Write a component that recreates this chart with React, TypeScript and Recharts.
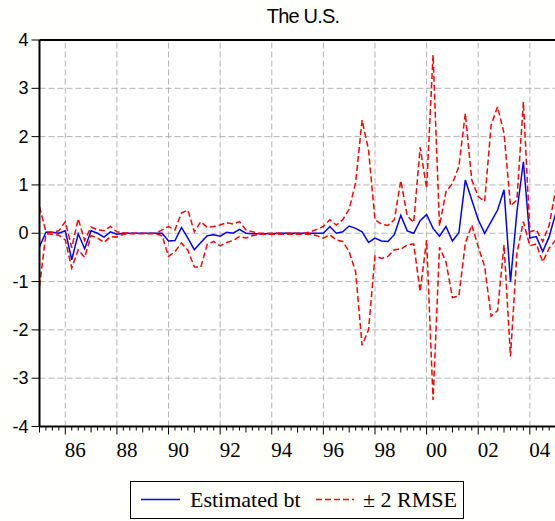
import React from 'react';
import { LineChart, Line, XAxis, YAxis, ReferenceLine } from 'recharts';

// Quarterly observations, index 0 = 1985Q1
const estimatedBt = [
  -0.28, 0.02, 0.02, 0.00, 0.05, -0.55, -0.01, -0.32, 0.05, 0.00,
  -0.08, 0.03, -0.02, 0.00, 0.00, 0.00, 0.00, 0.00, 0.00, 0.00,
  -0.16, -0.15, 0.12, -0.10, -0.34, -0.19, -0.05, -0.03, -0.06, 0.02,
  0.00, 0.08, 0.00, -0.01, -0.01, -0.01, -0.01, 0.00, 0.00, 0.00,
  0.00, 0.00, 0.00, 0.00, 0.00, 0.14, 0.00, 0.03, 0.15, 0.10,
  0.03, -0.19, -0.10, -0.16, -0.17, -0.03, 0.37, 0.05, 0.00, 0.26,
  0.39, 0.10, -0.06, 0.14, -0.16, 0.01, 1.10, 0.69, 0.28, 0.00,
  0.24, 0.48, 0.90, -1.01, 0.45, 1.48, -0.10, -0.07, -0.38, -0.07,
  0.41,
];

const upperBand = [
  0.55, 0.03, 0.02, 0.05, 0.24, -0.30, 0.30, -0.15, 0.13, 0.07,
  0.05, 0.14, 0.03, 0.01, 0.00, 0.00, 0.00, 0.00, 0.00, 0.07,
  0.14, 0.07, 0.42, 0.48, 0.03, 0.24, 0.12, 0.14, 0.17, 0.22,
  0.19, 0.24, 0.07, 0.03, 0.00, 0.00, 0.00, 0.00, 0.00, 0.00,
  0.00, 0.00, 0.03, 0.08, 0.14, 0.28, 0.17, 0.28, 0.50, 1.05,
  2.34, 1.72, 0.28, 0.19, 0.16, 0.28, 1.09, 0.36, 0.22, 1.78,
  0.93, 3.69, 0.15, 0.86, 1.03, 1.38, 2.48, 1.10, 0.76, 0.66,
  2.24, 2.62, 2.07, 0.57, 0.69, 2.72, 0.03, 0.07, -0.17, 0.17,
  0.90,
];

const lowerBand = [
  -1.10, -0.01, -0.02, -0.04, -0.14, -0.72, -0.34, -0.50, -0.05, -0.10,
  -0.19, -0.07, -0.08, -0.02, -0.01, -0.01, -0.01, -0.01, -0.01, -0.05,
  -0.48, -0.38, -0.20, -0.35, -0.70, -0.70, -0.23, -0.17, -0.26, -0.19,
  -0.15, -0.07, -0.10, -0.05, -0.02, -0.02, -0.02, -0.02, -0.02, -0.02,
  -0.02, -0.02, -0.02, -0.05, -0.10, -0.03, -0.14, -0.17, -0.38, -0.80,
  -2.32, -2.00, -0.47, -0.52, -0.48, -0.34, -0.33, -0.24, -0.22, -1.21,
  -0.14, -3.45, -0.29, -0.59, -1.33, -1.30, -0.21, 0.17, -0.28, -0.69,
  -1.72, -1.60, -0.24, -2.55, -0.41, 0.24, -0.26, -0.22, -0.59, -0.31,
  -0.14,
];

const yearTickLabels = ['86', '88', '90', '92', '94', '96', '98', '00', '02', '04'];
const yearTickQuarter = [4, 12, 20, 28, 36, 44, 52, 60, 68, 76];
const yTicks = [-4, -3, -2, -1, 0, 1, 2, 3, 4];
const yGrid = [-3, -2, -1, 0, 1, 2, 3];

const data = estimatedBt.map((b, i) => ({ t: i, bt: b, up: upperBand[i], lo: lowerBand[i] }));
const quarterTicks = data.map((d) => d.t);

const SERIF = '"Liberation Serif", "DejaVu Serif", serif';
const SANS = '"Liberation Sans", Arial, sans-serif';

const XTick = (props: any) => {
  const { x, y, payload } = props;
  const t = payload.value;
  const li = yearTickQuarter.indexOf(t);
  const len = li >= 0 ? 8 : t % 4 === 0 ? 6 : 4;
  return (
    <g>
      <line x1={x} x2={x} y1={y} y2={y + len} stroke="#000" strokeWidth={1} />
      {li >= 0 && (
        <text x={x + 10} y={y + 30} textAnchor="middle" fontFamily={SERIF} fontSize={21} fill="#000">
          {yearTickLabels[li]}
        </text>
      )}
    </g>
  );
};

const YTick = (props: any) => {
  const { x, y, payload } = props;
  return (
    <text x={x} y={y + 6} textAnchor="end" fontFamily={SANS} fontSize={18} fill="#000">
      {String(payload.value)}
    </text>
  );
};

const gridStroke = '#b4b4b4';

export default function App() {
  return (
    <div style={{ position: 'absolute', left: 0, top: 0, width: 555, height: 521, background: '#fffffb', overflow: 'hidden' }}>
      <div style={{ position: 'absolute', left: 39, top: 40, width: 516, height: 387, background: '#ffffff' }} />
      <div style={{ position: 'absolute', left: 0, top: 0 }}>
        <LineChart width={555} height={521} data={data} margin={{ top: 40, right: 0, bottom: 64.5, left: 0 }}>
          <XAxis
            dataKey="t"
            type="number"
            domain={[0, 79.9]}
            allowDataOverflow
            ticks={quarterTicks}
            interval={0}
            tickSize={0}
            tickMargin={0}
            tickLine={false}
            tick={<XTick />}
            height={30}
            axisLine={{ stroke: '#000', strokeWidth: 2 }}
          />
          <YAxis
            type="number"
            domain={[-4, 4]}
            ticks={yTicks}
            interval={0}
            width={39.5}
            tickSize={8}
            tickMargin={3}
            tickLine={{ stroke: '#000', strokeWidth: 1 }}
            axisLine={{ stroke: '#000', strokeWidth: 2 }}
            tick={<YTick />}
          />
          {yGrid.map((v) => (
            <ReferenceLine key={'h' + v} y={v} stroke={gridStroke} strokeDasharray="6 3" strokeWidth={1} />
          ))}
          {yearTickQuarter.map((q) => (
            <ReferenceLine key={'v' + q} x={q} stroke={gridStroke} strokeDasharray="6 3" strokeWidth={1} />
          ))}
          <ReferenceLine y={4} stroke="#000" strokeWidth={2} />
          <Line type="linear" dataKey="bt" stroke="#0000ff" strokeWidth={1.5} dot={false} isAnimationActive={false} />
          <Line type="linear" dataKey="up" stroke="#ff0000" strokeWidth={1.5} strokeDasharray="6 3" dot={false} isAnimationActive={false} />
          <Line type="linear" dataKey="lo" stroke="#ff0000" strokeWidth={1.5} strokeDasharray="6 3" dot={false} isAnimationActive={false} />
        </LineChart>
      </div>
      <svg width={555} height={521} style={{ position: 'absolute', left: 0, top: 0, pointerEvents: 'none' }}>
        <text x={303} y={23} textAnchor="middle" fontFamily={SANS} fontSize={20} letterSpacing={-0.8} fill="#000">
          The U.S.
        </text>
        <rect x={130.5} y={481.5} width={333} height={37} fill="#fffffb" stroke="#000" strokeWidth={1} />
        <line x1={141} x2={180} y1={499.5} y2={499.5} stroke="#0000ff" strokeWidth={1.5} />
        <text x={190} y={507} fontFamily={SERIF} fontSize={22} fill="#000">
          Estimated bt
        </text>
        <line x1={316} x2={354} y1={499.5} y2={499.5} stroke="#ff0000" strokeWidth={1.5} strokeDasharray="6 3" />
        <text x={363} y={507} fontFamily={SERIF} fontSize={22} fill="#000">
          ± 2 RMSE
        </text>
      </svg>
    </div>
  );
}
